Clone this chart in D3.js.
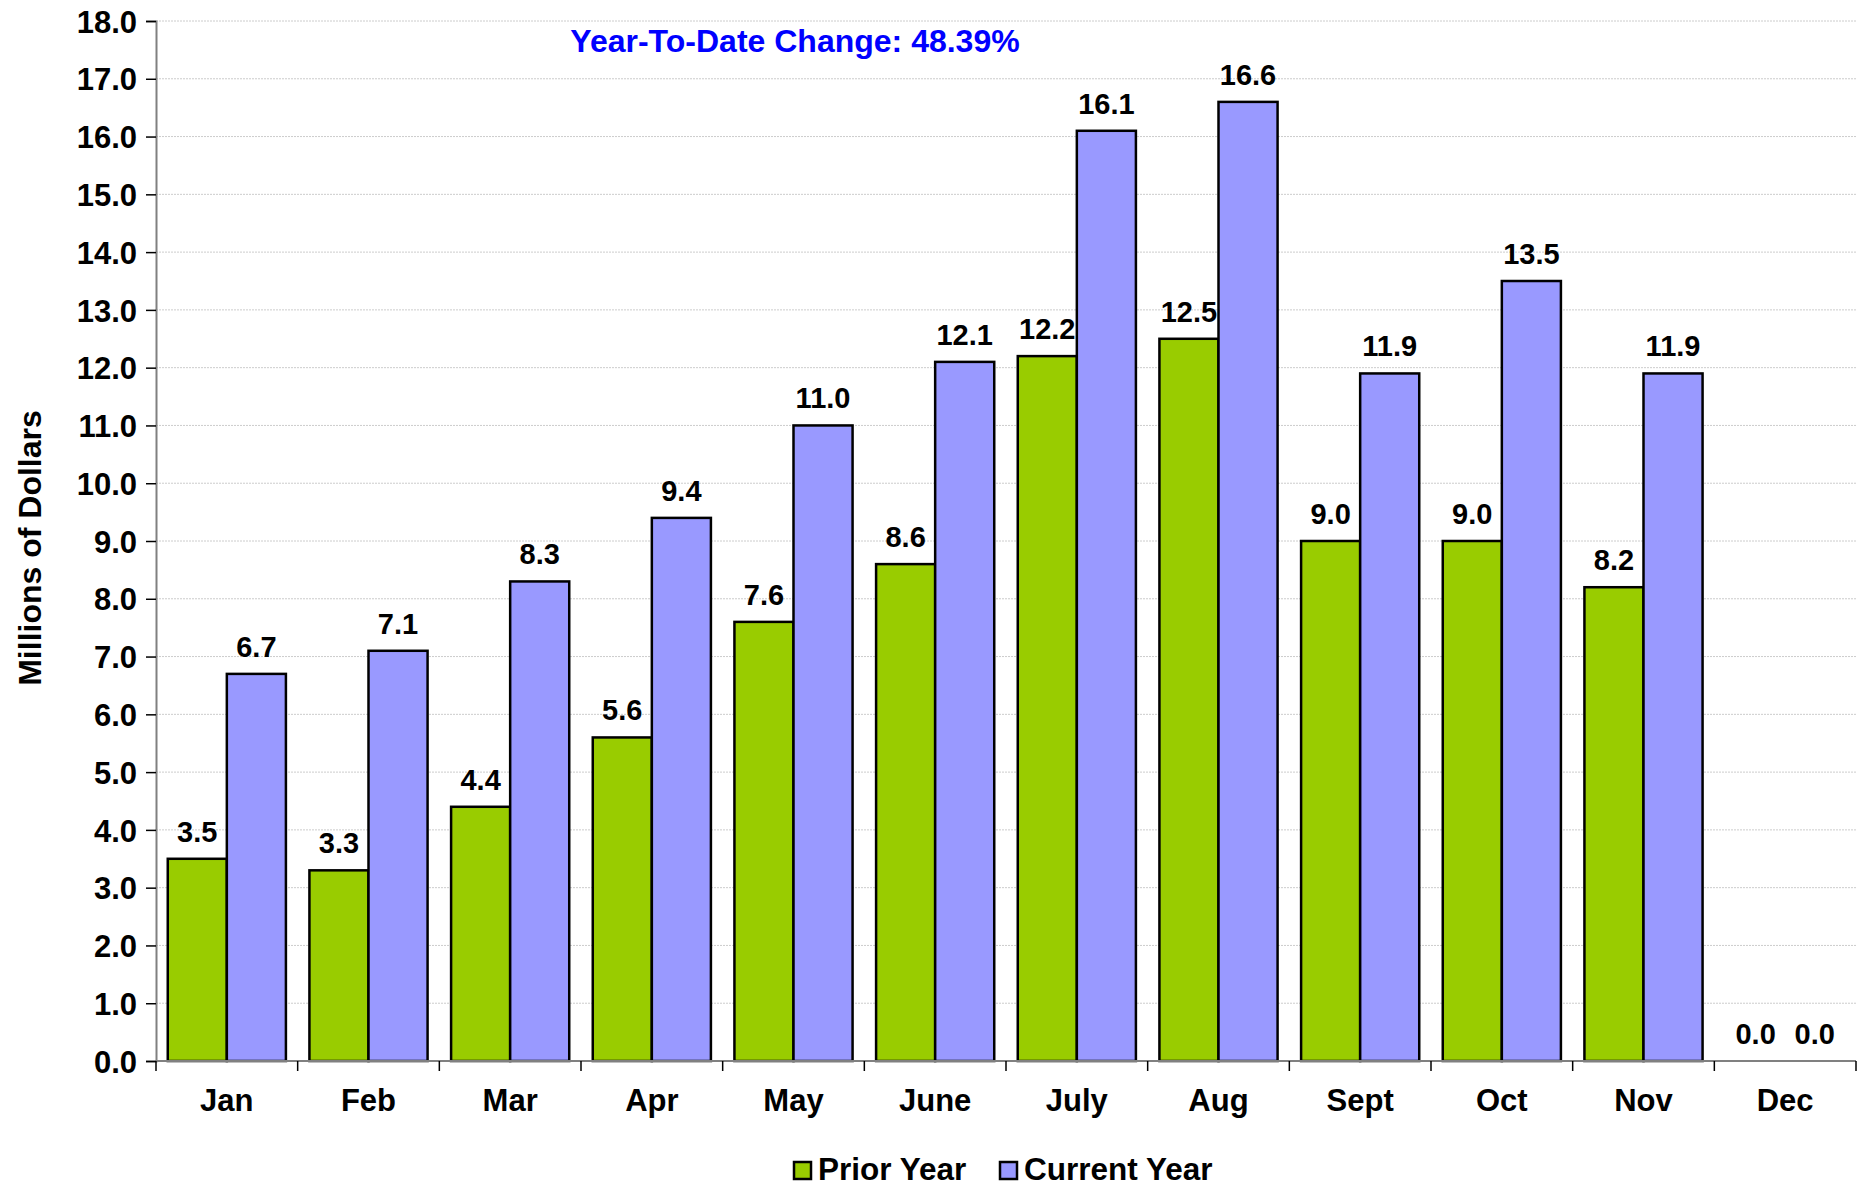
<!DOCTYPE html>
<html lang="en">
<head>
    <meta charset="UTF-8">
    <script src="https://d3js.org/d3.v7.min.js" charset="utf-8"></script>
    <title>Monthly Revenue</title>
    <style>
        body { margin: 0; background: #fff; }
        svg text { font-family: "Liberation Sans", Arial, sans-serif; font-weight: bold; }
    </style>
</head>
<body>
    <div class="chart"></div>
    <script>
        const width = 1865;
        const height = 1186;

        // monthly values, millions of dollars
        const months = ["Jan", "Feb", "Mar", "Apr", "May", "June", "July", "Aug", "Sept", "Oct", "Nov", "Dec"];
        const priorYear = [3.5, 3.3, 4.4, 5.6, 7.6, 8.6, 12.2, 12.5, 9.0, 9.0, 8.2, 0.0];
        const currentYear = [6.7, 7.1, 8.3, 9.4, 11.0, 12.1, 16.1, 16.6, 11.9, 13.5, 11.9, 0.0];
        const seriesNames = ["Prior Year", "Current Year"];
        const seriesColors = ["#99cc00", "#9999ff"];
        const yTicks = d3.range(0, 19, 1);
        const ytdLabel = "Year-To-Date Change: 48.39%";

        const margin = {top: 21, right: 9, bottom: 125, left: 156};
        const innerW = width - margin.left - margin.right;
        const innerH = height - margin.top - margin.bottom;

        const svg = d3.select(".chart").append("svg")
            .attr("width", width)
            .attr("height", height);

        const g = svg.append("g")
            .attr("transform", `translate(${margin.left},${margin.top})`);

        const x = d3.scaleBand()
            .domain(months)
            .range([0, innerW])
            .paddingInner(0.166)
            .paddingOuter(0.083);

        const xSub = d3.scaleBand()
            .domain(seriesNames)
            .range([0, x.bandwidth()]);

        const y = d3.scaleLinear()
            .domain([0, 18])
            .range([innerH, 0]);

        // gridlines
        g.selectAll(".grid")
            .data(yTicks.filter(d => d > 0))
            .enter()
            .append("line")
            .attr("x1", 0)
            .attr("x2", innerW)
            .attr("y1", d => y(d))
            .attr("y2", d => y(d))
            .attr("stroke", "#cccccc")
            .attr("stroke-width", 1)
            .attr("stroke-dasharray", "2,1");

        // y axis
        const yAxis = g.append("g")
            .call(d3.axisLeft(y).tickValues(yTicks).tickFormat(d3.format(".1f")).tickSize(10).tickPadding(9));
        yAxis.select(".domain").attr("stroke", "#808080").attr("stroke-width", 2);
        yAxis.selectAll(".tick line").attr("stroke", "#000").attr("stroke-width", 1.5);
        yAxis.selectAll(".tick text")
            .attr("font-size", 31)
            .attr("fill", "#000")
            .attr("dy", "0.36em");

        // bars
        const groups = g.selectAll(".month")
            .data(months.map((m, i) => ({month: m, values: [priorYear[i], currentYear[i]]})))
            .enter()
            .append("g")
            .attr("transform", d => `translate(${x(d.month)},0)`);

        groups.selectAll("rect")
            .data(d => d.values.map((v, j) => ({name: seriesNames[j], value: v, color: seriesColors[j]})))
            .enter()
            .filter(d => d.value > 0)
            .append("rect")
            .attr("x", d => xSub(d.name))
            .attr("y", d => y(d.value))
            .attr("width", xSub.bandwidth())
            .attr("height", d => innerH - y(d.value))
            .attr("fill", d => d.color)
            .attr("stroke", "#000")
            .attr("stroke-width", 2.5);

        groups.selectAll(".val")
            .data(d => d.values.map((v, j) => ({name: seriesNames[j], value: v})))
            .enter()
            .append("text")
            .attr("x", d => xSub(d.name) + xSub.bandwidth() / 2)
            .attr("y", d => y(d.value) - 17)
            .attr("text-anchor", "middle")
            .attr("font-size", 29)
            .attr("fill", "#000")
            .text(d => d3.format(".1f")(d.value));

        // x axis with ticks between categories
        const xAxis = g.append("g").attr("transform", `translate(0,${innerH})`);
        xAxis.append("line")
            .attr("x1", 0).attr("x2", innerW)
            .attr("stroke", "#808080").attr("stroke-width", 2);
        const step = x.step();
        const boundaries = d3.range(0, months.length + 1).map(i => x(months[0]) - x.paddingOuter() * step + i * step);
        xAxis.selectAll(".xtick")
            .data(boundaries)
            .enter()
            .append("line")
            .attr("x1", d => d).attr("x2", d => d)
            .attr("y1", 0).attr("y2", 10)
            .attr("stroke", "#000").attr("stroke-width", 1.5);
        xAxis.selectAll(".xlab")
            .data(months)
            .enter()
            .append("text")
            .attr("x", d => x(d) + x.bandwidth() / 2)
            .attr("y", 50)
            .attr("text-anchor", "middle")
            .attr("font-size", 31)
            .attr("fill", "#000")
            .text(d => d);

        // y axis title
        svg.append("text")
            .attr("transform", `translate(41,${margin.top + innerH / 2 + 7}) rotate(-90)`)
            .attr("text-anchor", "middle")
            .attr("font-size", 32)
            .attr("fill", "#000")
            .text("Millions of Dollars");

        // year-to-date annotation
        svg.append("text")
            .attr("x", 795)
            .attr("y", 52)
            .attr("text-anchor", "middle")
            .attr("font-size", 32)
            .attr("fill", "#0000ff")
            .text(ytdLabel);

        // legend
        const legend = svg.append("g");
        const legendX = [794, 1000];
        seriesNames.forEach((name, i) => {
            legend.append("rect")
                .attr("x", legendX[i])
                .attr("y", 1162)
                .attr("width", 17)
                .attr("height", 17)
                .attr("fill", seriesColors[i])
                .attr("stroke", "#000")
                .attr("stroke-width", 2.5);
            legend.append("text")
                .attr("x", legendX[i] + 24)
                .attr("y", 1180)
                .attr("font-size", 31.5)
                .attr("fill", "#000")
                .text(name);
        });
    </script>
</body>
</html>
